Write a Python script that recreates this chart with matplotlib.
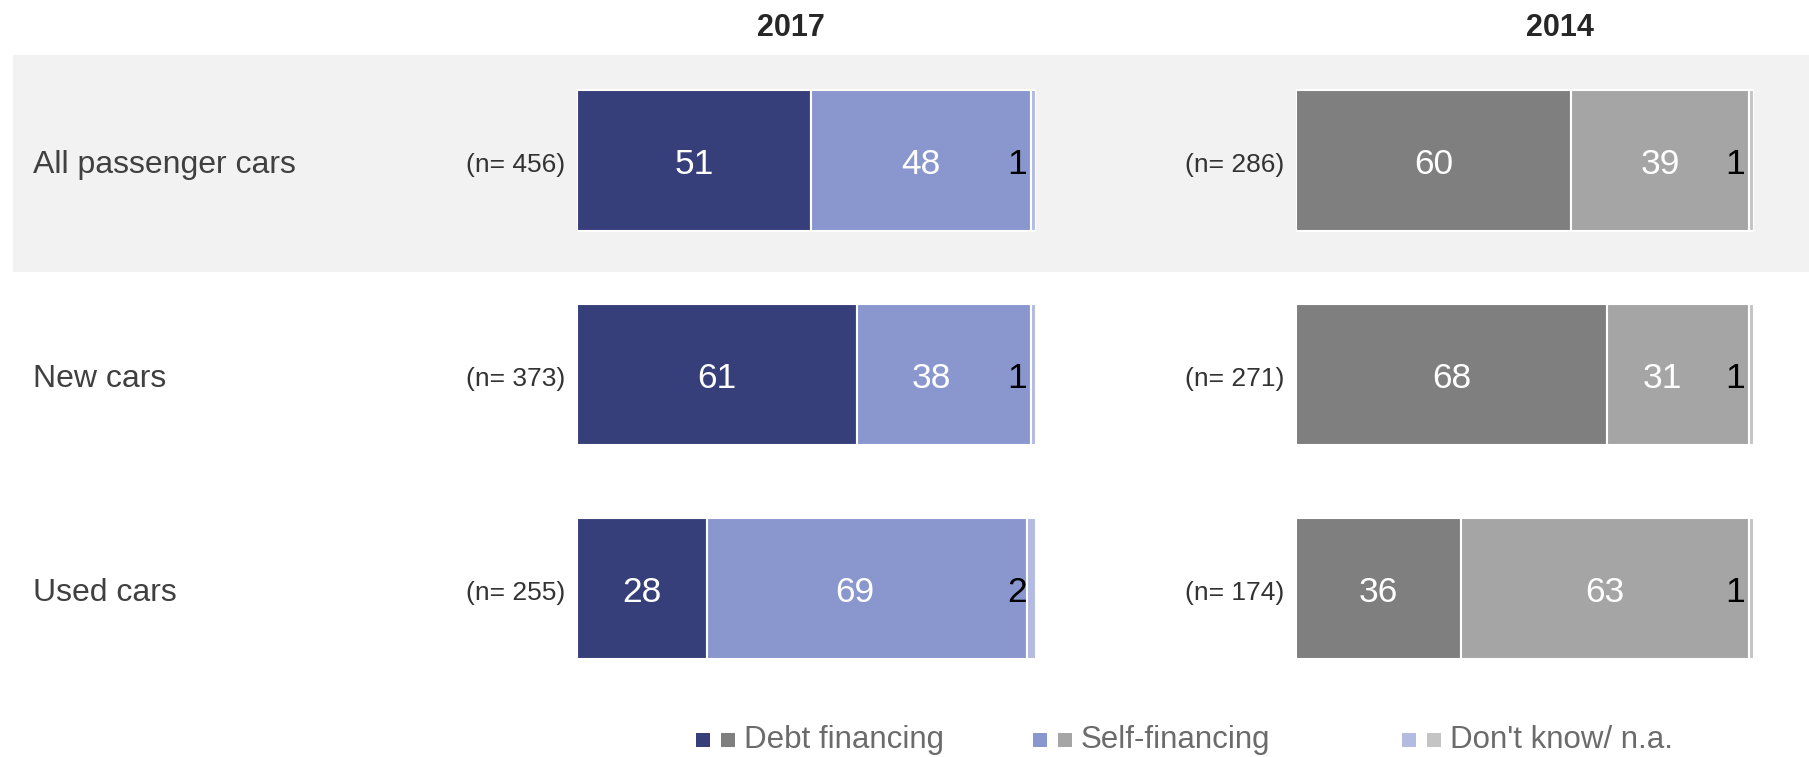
import matplotlib
matplotlib.use("Agg")
import matplotlib.pyplot as plt
from matplotlib.patches import Rectangle
import matplotlib.transforms as mtransforms

plt.rcParams['font.family'] = ['Liberation Sans', 'DejaVu Sans']

# ---- data ----
categories = ["All passenger cars", "New cars", "Used cars"]
years = ["2017", "2014"]
n_2017 = [456, 373, 255]
n_2014 = [286, 271, 174]
debt_2017 = [51, 61, 28]
self_2017 = [48, 38, 69]
dk_2017 = [1, 1, 2]
debt_2014 = [60, 68, 36]
self_2014 = [39, 31, 63]
dk_2014 = [1, 1, 1]
legend_labels = ["Debt financing", "Self-financing", "Don't know/ n.a."]

colors_2017 = ["#373f7a", "#8a97cf", "#b3bbe1"]
colors_2014 = ["#7f7f7f", "#a5a5a5", "#c4c4c4"]

W, H = 1809, 757
fig = plt.figure(figsize=(W / 100, H / 100), dpi=100)

def fx(px):
    return px / W

def fy(py):
    return 1 - py / H

DY = -4  # small downward nudge of row texts (pixels)

# grey band behind first row
fig.patches.append(Rectangle((fx(13), fy(272)), 1 - fx(13), (272 - 55) / H,
                             transform=fig.transFigure, facecolor="#f2f2f2",
                             edgecolor="none", zorder=-10))

# panel layout: left px, width px, series, colours, n, header x, year, self-label pixel shifts
panels = [
    (577, 459, [debt_2017, self_2017, dk_2017], colors_2017, n_2017, 791, years[0], [0, -13, -12]),
    (1296, 458, [debt_2014, self_2014, dk_2014], colors_2014, n_2014, 1560, years[1], [0, -16, 0]),
]

axes = []
for left, width, series, cols, ns, hx, year, shifts in panels:
    ax = fig.add_axes([fx(left), 0, fx(width), 1])
    ax.set_xlim(0, 100)
    ax.set_ylim(2.787, -0.75)
    ax.axis("off")
    ypos = list(range(len(categories)))
    totals = [sum(s[i] for s in series) for i in ypos]
    base = [0.0] * len(categories)
    for k, (vals, c) in enumerate(zip(series, cols)):
        widths = [100.0 * v / t for v, t in zip(vals, totals)]
        ax.barh(ypos, widths, left=base, height=0.659, color=c,
                edgecolor="white", linewidth=1.5, zorder=2)
        for i, (v, w) in enumerate(zip(vals, widths)):
            if k < 2:
                dx = shifts[i] if k == 1 else 0
                ax.annotate(str(v), xy=(base[i] + w / 2, i), xytext=(dx, DY),
                            textcoords="offset pixels", ha="center", va="center",
                            color="white", fontsize=25.5, zorder=3)
            else:
                ax.annotate(str(v), xy=(base[i] + w, i), xytext=(-9, DY),
                            textcoords="offset pixels", ha="right", va="center",
                            color="black", fontsize=25.5, zorder=3)
        base = [b + w for b, w in zip(base, widths)]
    for i, n in enumerate(ns):
        ax.annotate(f"(n= {n})", xy=(0, i), xytext=(-12, DY),
                    textcoords="offset pixels", ha="right", va="center",
                    color="#333333", fontsize=19)
    fig.text(fx(hx), fy(28), year, ha="center", va="center",
             fontsize=22, fontweight="bold", color="#262626")
    axes.append(ax)

# category labels
trans = mtransforms.blended_transform_factory(fig.transFigure, axes[0].transData)
trans = trans + mtransforms.Affine2D().translate(0, DY)
for i, cat in enumerate(categories):
    fig.text(fx(33), i, cat, transform=trans, ha="left", va="center",
             fontsize=23, color="#404040")

# legend
leg_x = [696, 1033, 1402]
sq = 14
gap = 11
ly = 740
for lab, c1, c2, x0 in zip(legend_labels, colors_2017, colors_2014, leg_x):
    fig.patches.append(Rectangle((fx(x0), fy(ly + sq / 2)), fx(sq), sq / H,
                                 transform=fig.transFigure, facecolor=c1, edgecolor="none"))
    fig.patches.append(Rectangle((fx(x0 + sq + gap), fy(ly + sq / 2)), fx(sq), sq / H,
                                 transform=fig.transFigure, facecolor=c2, edgecolor="none"))
    fig.text(fx(x0 + 2 * sq + gap + 9), fy(ly), lab, ha="left", va="center",
             fontsize=22.5, color="#6b6b6b")

fig.savefig("out.png", dpi=100)
